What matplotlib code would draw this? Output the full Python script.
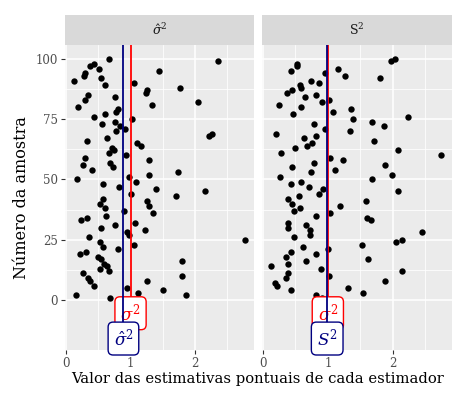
import matplotlib.pyplot as plt
import numpy as np

plt.rcParams['font.family'] = 'DejaVu Serif'
plt.rcParams['mathtext.fontset'] = 'dejavuserif'

# estimator sigma-hat^2 : sample number and estimate
n_hat = [100, 99, 98, 97, 96, 95, 94, 93, 92, 91, 90, 89, 88, 87, 86, 85, 84, 83, 82, 81,
         80, 79, 78, 77, 76, 75, 74, 73, 72, 71, 70, 69, 68, 67, 66, 65, 64, 63, 62, 61,
         60, 59, 58, 57, 56, 55, 54, 53, 52, 51, 50, 49, 48, 47, 46, 45, 44, 43, 42, 41,
         40, 39, 38, 37, 36, 35, 34, 33, 32, 31, 30, 29, 28, 27, 26, 25, 24, 23, 22, 21,
         20, 19, 18, 17, 16, 15, 14, 13, 12, 11, 10, 9, 8, 8, 6, 5, 4, 3, 2, 2, 1]
x_hat = [0.67, 2.36, 0.44, 0.37, 0.51, 1.44, 0.29, 0.28, 0.54, 0.12, 1.05, 0.60, 1.77, 1.25,
         1.24, 0.34, 0.76, 0.30, 2.05, 1.34, 0.19, 0.81, 0.77, 0.61, 0.43, 1.03, 0.76, 0.56,
         0.84, 0.92, 0.77, 2.27, 2.21, 0.63, 0.32, 1.10, 1.16, 0.71, 0.75, 0.67, 0.93, 0.30,
         1.29, 0.68, 0.26, 0.73, 0.41, 1.73, 1.28, 0.98, 0.17, 1.09, 0.57, 0.82, 1.40, 2.15,
         1.01, 1.71, 0.57, 1.26, 0.53, 1.29, 0.61, 0.90, 1.35, 0.62, 0.32, 0.23, 1.07, 0.76,
         0.54, 1.22, 0.94, 0.97, 0.35, 2.77, 0.53, 1.06, 0.57, 0.81, 0.31, 0.22, 0.49, 0.54,
         1.80, 0.59, 0.64, 0.53, 0.66, 0.27, 1.80, 0.34, 1.25, 0.37, 0.44, 0.94, 1.51, 1.11,
         1.86, 0.16, 0.68]

# estimator S^2
n_s2 = list(range(100, 0, -1))
x_s2 = [2.03, 1.98, 0.53, 0.53, 1.16, 0.43, 0.96, 1.26, 1.81, 0.74, 0.87, 0.57, 0.59, 0.45,
        0.37, 0.81, 0.64, 1.02, 0.91, 0.25, 0.59, 1.35, 1.08, 0.46, 2.23, 1.39, 1.68, 0.78,
        1.87, 0.95, 1.34, 0.20, 0.81, 0.63, 1.71, 0.75, 0.68, 0.50, 2.09, 0.28, 2.74, 1.04,
        1.23, 0.78, 1.88, 0.45, 1.11, 0.74, 1.99, 0.26, 1.68, 0.59, 0.43, 0.71, 0.93, 2.09,
        0.86, 0.55, 0.38, 1.59, 0.44, 1.19, 0.57, 0.48, 1.03, 0.81, 1.61, 1.66, 0.38, 0.67,
        0.38, 0.73, 2.46, 0.73, 0.48, 2.15, 2.05, 1.53, 0.62, 1.00, 0.43, 0.82, 0.35, 1.62,
        0.67, 0.39, 0.13, 0.90, 2.14, 0.39, 1.02, 0.35, 1.88, 0.18, 0.21, 1.31, 0.43, 1.55,
        0.82, 0.91]

sigma2 = 1.0
means = [0.89, 0.99]
strip_titles = [r'$\hat{\sigma}^2$', r'$\mathrm{S}^2$']
est_labels = [r'$\hat{\sigma}^2$', r'$S^2$']

fig = plt.figure(figsize=(4.54, 3.93), dpi=100)
lefts = [0.1436, 0.5775]
widths = [0.4157, 0.4177]
bottom, height = 0.1094, 0.7761

data = [(x_hat, n_hat), (x_s2, n_s2)]
for i in range(2):
    ax = fig.add_axes([lefts[i], bottom, widths[i], height])
    ax.set_facecolor('#EBEBEB')
    ax.set_xlim(-0.013, 2.913)
    ax.set_ylim(-20.75, 105.75)
    ax.set_xticks([0, 1, 2])
    ax.set_xticks([0.5, 1.5, 2.5], minor=True)
    ax.set_yticks([0, 25, 50, 75, 100])
    ax.set_yticks([12.5, 37.5, 62.5, 87.5], minor=True)
    ax.grid(which='major', color='white', lw=1.1)
    ax.grid(which='minor', color='white', lw=0.55)
    ax.set_axisbelow(True)
    for s in ax.spines.values():
        s.set_visible(False)
    ax.tick_params(which='major', length=3, color='#333333', labelsize=8.5,
                   labelcolor='#4D4D4D', pad=2)
    ax.tick_params(which='minor', length=0)
    if i == 1:
        ax.set_yticklabels([])
        ax.tick_params(axis='y', length=0)

    xs, ns = data[i]
    ax.scatter(xs, ns, s=21, color='black', linewidths=0, zorder=3)

    ax.axvline(sigma2, color='red', lw=1.3, zorder=4)
    t = ax.text(sigma2, -5.5, r'$\sigma^2$', color='red', fontsize=12, ha='center',
                va='center', zorder=5,
                bbox=dict(boxstyle='round,pad=0.33,rounding_size=0.3', fc='white',
                          ec='red', lw=1.0))
    t.set_clip_path(ax.patch)
    ax.axvline(means[i], color='navy', lw=1.3, zorder=6)
    t = ax.text(means[i], -16, est_labels[i], color='navy', fontsize=12, ha='center',
                va='center', zorder=7,
                bbox=dict(boxstyle='round,pad=0.33,rounding_size=0.3', fc='white',
                          ec='navy', lw=1.0))
    t.set_clip_path(ax.patch)

    strip = fig.add_axes([lefts[i], bottom + height, widths[i], 30 / 393])
    strip.set_facecolor('#D9D9D9')
    strip.set_xticks([])
    strip.set_yticks([])
    for s in strip.spines.values():
        s.set_visible(False)
    strip.text(0.5, 0.5, strip_titles[i], ha='center', va='center', fontsize=9,
               color='#1A1A1A', transform=strip.transAxes)

fig.text(0.048, 0.497, 'Número da amostra', rotation=90, ha='center', va='center',
         fontsize=11.5)
fig.text(0.567, 0.035, 'Valor das estimativas pontuais de cada estimador', ha='center',
         va='center', fontsize=10.6)

fig.savefig('out.png', dpi=100)
